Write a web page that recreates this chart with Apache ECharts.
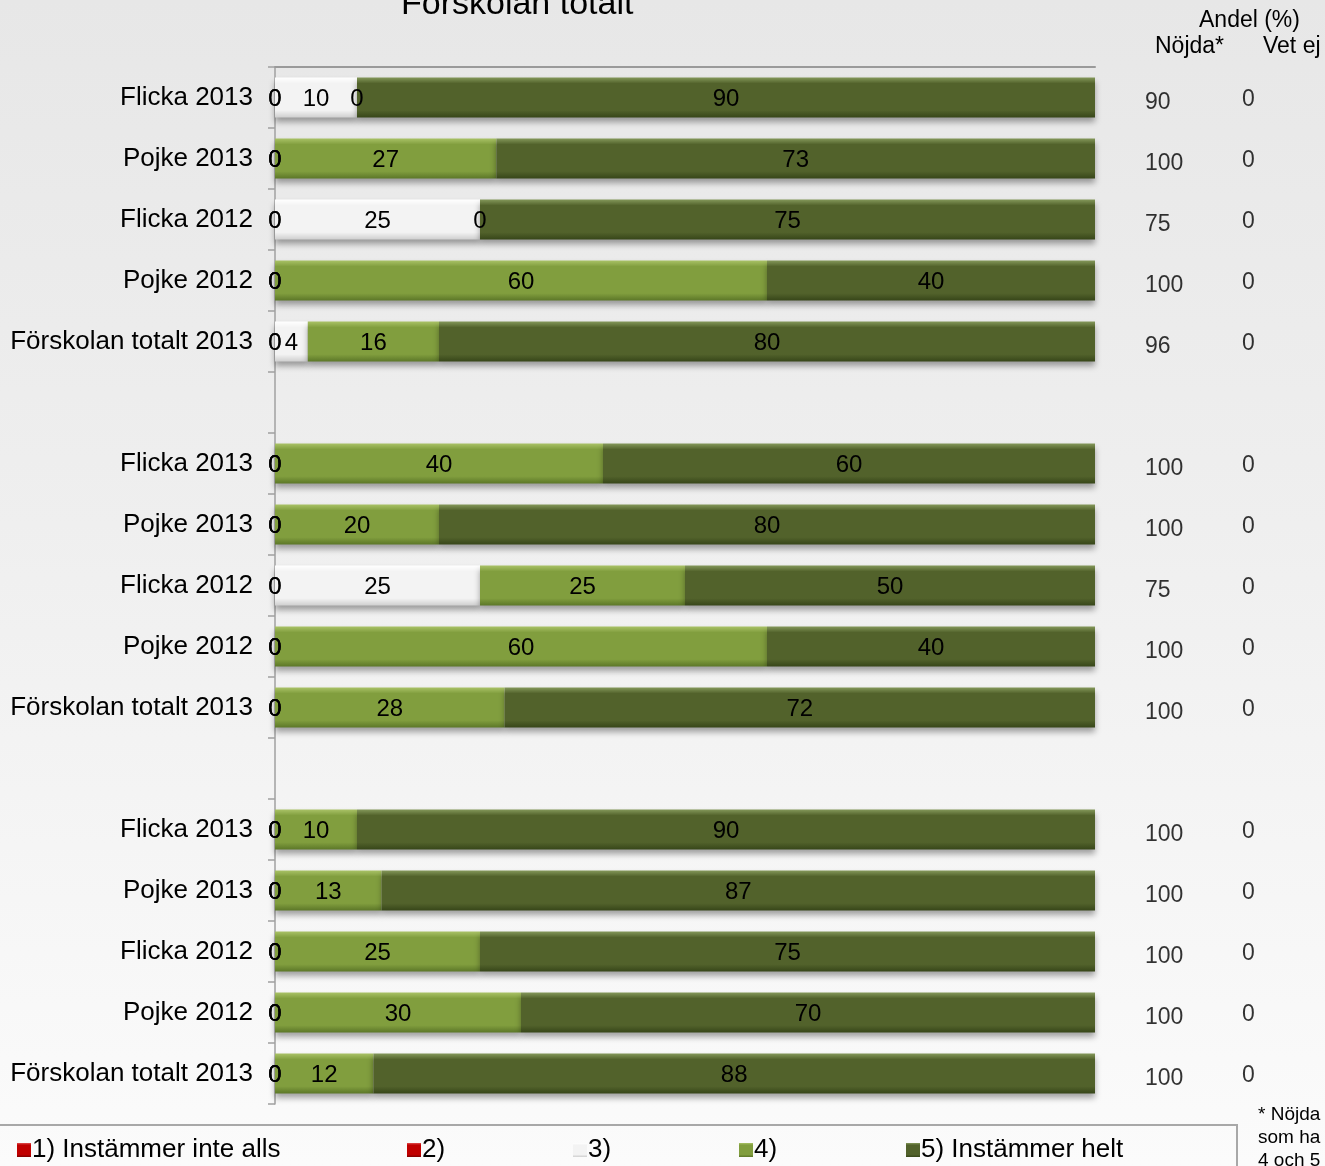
<!DOCTYPE html>
<html>
<head>
<meta charset="utf-8">
<script src="https://cdn.jsdelivr.net/npm/echarts@6/dist/echarts.min.js"></script>
<style>
html,body{margin:0;padding:0;width:1325px;height:1166px;overflow:hidden;
background:linear-gradient(to bottom,#e7e7e7 0%,#efefef 45%,#fbfbfb 100%);}
#c{width:1325px;height:1166px;}
</style>
</head>
<body>
<div id="c"></div>
<script>
var categories = ['Flicka 2013','Pojke 2013','Flicka 2012','Pojke 2012','Förskolan totalt 2013','',
                  'Flicka 2013','Pojke 2013','Flicka 2012','Pojke 2012','Förskolan totalt 2013','',
                  'Flicka 2013','Pojke 2013','Flicka 2012','Pojke 2012','Förskolan totalt 2013'];
var seriesNames = ['1) Instämmer inte alls','2)','3)','4)','5) Instämmer helt'];
var s1 = [0,0,0,0,0,null,0,0,0,0,0,null,0,0,0,0,0];
var s2 = [0,0,0,0,0,null,0,0,0,0,0,null,0,0,0,0,0];
var s3 = [10,0,25,0,4,null,0,0,25,0,0,null,0,0,0,0,0];
var s4 = [0,27,0,60,16,null,40,20,25,60,28,null,10,13,25,30,12];
var s5 = [90,73,75,40,80,null,60,80,50,40,72,null,90,87,75,70,88];
var nojda = [90,100,75,100,96,null,100,100,75,100,100,null,100,100,100,100,100];
var vetEj = [0,0,0,0,0,null,0,0,0,0,0,null,0,0,0,0,0];

var FONT = 'Liberation Sans, Arial, sans-serif';
function grad(top, mid, bot){
  return new echarts.graphic.LinearGradient(0,0,0,1,[
    {offset:0,color:top},{offset:0.15,color:mid},{offset:0.82,color:mid},{offset:1,color:bot}]);
}
var fills = [
  grad('#e05050','#c00000','#800000'),
  grad('#e05050','#c00000','#800000'),
  grad('#ffffff','#f3f3f3','#cfcfcf'),
  grad('#a9c266','#819e3e','#5c7728'),
  grad('#84985a','#52622b','#374619')
];
var legendLefts = [12, 402, 568, 734, 901];

var chart = echarts.init(document.getElementById('c'));
var allData = [s1,s2,s3,s4,s5];
var series = allData.map(function(d,i){
  return {
    name: seriesNames[i], type:'bar', stack:'t', data:d, barWidth:40,
    itemStyle:{color:fills[i], shadowColor:'rgba(0,0,0,0.35)', shadowBlur:6, shadowOffsetY:4},
    label:{show:true, position:'inside', offset:[0,2], color:'#000', fontSize:24, fontFamily:FONT,
      formatter:function(p){return p.value==null?'':String(p.value);}},
    emphasis:{disabled:true}
  };
});
series.push({
  type:'scatter', symbolSize:0, silent:true,
  data: nojda.map(function(v,i){return v==null?null:[100,i,v];}).filter(function(x){return x;}),
  label:{show:true, position:'right', distance:50, offset:[0,5], color:'#000', fontSize:23, fontFamily:FONT,
    formatter:function(p){return String(p.value[2]);}}
});
series.push({
  type:'scatter', symbolSize:0, silent:true,
  data: vetEj.map(function(v,i){return v==null?null:[100,i,v];}).filter(function(x){return x;}),
  label:{show:true, position:'right', distance:147, offset:[0,2], color:'#000', fontSize:23, fontFamily:FONT,
    formatter:function(p){return String(p.value[2]);}}
});

var legends = seriesNames.map(function(n,i){
  return {data:[{name:n, itemStyle:{color:fills[i]}}], left:legendLefts[i], top:1132, itemWidth:14, itemHeight:14,
    itemGap:4, textStyle:{fontSize:26, fontFamily:FONT, color:'#000', padding:[0,0,0,-4]}, selectedMode:false, icon:'rect'};
});

chart.setOption({
  animation:false,
  backgroundColor:'transparent',
  title:{text:'Förskolan totalt', left:396, top:-17, textStyle:{fontSize:34, fontWeight:'normal', fontFamily:FONT, color:'#000'}},
  legend: legends,
  grid:{left:275, right:230, top:67, bottom:62},
  xAxis:{type:'value', min:0, max:100, position:'top', axisLine:{show:true, lineStyle:{color:'#9a9a9a', width:2}},
    axisTick:{show:false}, axisLabel:{show:false}, splitLine:{show:false}},
  yAxis:{type:'category', inverse:true, data:categories,
    axisLine:{show:true, lineStyle:{color:'#a0a0a0', width:1.5}},
    axisTick:{show:true, length:7, lineStyle:{color:'#a0a0a0', width:1.5}},
    axisLabel:{fontSize:26, color:'#000', fontFamily:FONT, margin:22}},
  graphic:[
    {type:'text', left:1199, top:9, style:{text:'Andel (%)', fontSize:23, fontFamily:FONT, fill:'#000'}},
    {type:'text', left:1155, top:35, style:{text:'Nöjda*', fontSize:23, fontFamily:FONT, fill:'#000'}},
    {type:'text', left:1263, top:35, style:{text:'Vet ej', fontSize:23, fontFamily:FONT, fill:'#000'}},
    {type:'rect', shape:{x:-2, y:1125, width:1239, height:60}, style:{fill:'none', stroke:'#a8a8a8', lineWidth:2}},
    {type:'text', left:1258, top:1103, style:{text:'* Nöjda\nsom ha\n4 och 5', fontSize:19, lineHeight:23, fontFamily:FONT, fill:'#000'}}
  ],
  series: series
});
</script>
</body>
</html>
